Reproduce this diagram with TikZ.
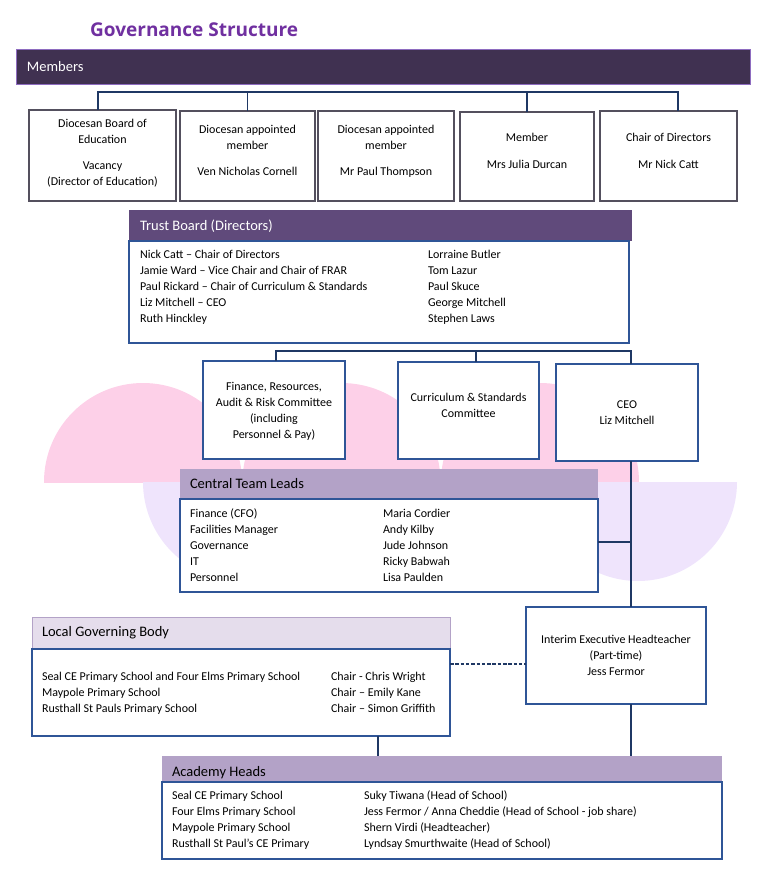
\documentclass[tikz,border=0pt]{standalone}
\usepackage{fontspec}
\setmainfont{Carlito}
\newfontfamily\titlefont{Open Sans}
\definecolor{titlec}{HTML}{7030A0}
\definecolor{mfill}{HTML}{403151}
\definecolor{mbord}{HTML}{8E6CC0}
\definecolor{tfill}{HTML}{604A7B}
\definecolor{hfill}{HTML}{B3A2C7}
\definecolor{lfill}{HTML}{E5DDEC}
\definecolor{grayb}{HTML}{54505E}
\definecolor{blueb}{HTML}{2F5597}
\definecolor{navy}{HTML}{1F3864}
\definecolor{pinkbg}{HTML}{FDD0E8}
\definecolor{lavbg}{HTML}{EFE4FC}
\newcommand\txtlines[5]{%
  \foreach \t [count=\k from 0] in {#5} {\node[txt, anchor=#4] (#1-\k) at (#2, #3+16*\k) {\t};}}
\begin{document}
\begin{tikzpicture}[x=1pt,y=-1pt,
  txt/.style={inner sep=0, outer sep=0, font=\fontsize{12}{16}\selectfont},
  hdr/.style={inner sep=0, outer sep=0, anchor=base west, font=\fontsize{14.5}{17}\selectfont},
  boxbase/.style={inner sep=0, outer sep=0, anchor=north west, line width=1.2pt, fill=white},
  gbox/.style={boxbase, draw=grayb},
  bbox/.style={boxbase, draw=blueb},
  conn/.style={draw=navy, line width=1.2pt}]
\useasboundingbox (0,0) rectangle (771,876);
% background shapes
\begin{scope}
  \clip (0,0) rectangle (771,482);
  \fill[pinkbg] (143,482) circle[radius=99];
  \fill[pinkbg] (341.5,482) circle[radius=99];
  \fill[pinkbg] (540,482) circle[radius=99];
\end{scope}
\begin{scope}
  \clip (0,482) rectangle (771,876);
  \fill[lavbg] (242,482) circle[radius=99];
  \fill[lavbg] (440,482) circle[radius=99];
  \fill[lavbg] (638,482) circle[radius=99];
\end{scope}
% title
\node[anchor=base west, inner sep=0, font=\titlefont\bfseries\fontsize{19}{23}\selectfont, text=titlec] (title) at (90,36) {Governance Structure};
% members bar
\node[boxbase, draw=mbord, fill=mfill, line width=1pt, minimum width=734, minimum height=35] (members) at (16,49) {};
\node[hdr, text=white] (memt) at (27,71) {Members};
% member boxes
\node[gbox, minimum width=147, minimum height=91] (m1) at (29,110) {};
\node[gbox, minimum width=135, minimum height=90] (m2) at (180,111) {};
\node[gbox, minimum width=136, minimum height=90] (m3) at (318,111) {};
\node[gbox, minimum width=134, minimum height=89] (m4) at (460,112) {};
\node[gbox, minimum width=137, minimum height=90] (m5) at (600,111) {};
\txtlines{m1a}{102.5}{127}{base}{Diocesan Board of,Education}
\txtlines{m1b}{102.5}{169}{base}{Vacancy,{(Director of Education)}}
\txtlines{m2a}{247.5}{133}{base}{Diocesan appointed,member}
\node[txt, anchor=base] (m2b) at (247.5,175) {Ven Nicholas Cornell};
\txtlines{m3a}{386}{133}{base}{Diocesan appointed,member}
\node[txt, anchor=base] (m3b) at (386,175) {Mr Paul Thompson};
\node[txt, anchor=base] (m4a) at (527,141) {Member};
\node[txt, anchor=base] (m4b) at (527,168) {Mrs Julia Durcan};
\node[txt, anchor=base] (m5a) at (668.5,141) {Chair of Directors};
\node[txt, anchor=base] (m5b) at (668.5,168) {Mr Nick Catt};
% member connectors
\coordinate (busA) at (98,92);
\coordinate (busB) at (678,92);
\draw[conn] (m1.north -| busA) -- (busA) -- (busB) -- (m5.north -| busB);
\draw[conn] (m2.north) -- (m2.north |- busA);
\draw[conn] (m4.north) -- (m4.north |- busA);
% trust board
\node[boxbase, fill=tfill, minimum width=503, minimum height=31] (tbh) at (129,210) {};
\node[hdr, text=white] (tbt) at (140,230) {Trust Board (Directors)};
\node[bbox, minimum width=500, minimum height=102] (tbb) at (129,241) {};
\txtlines{tbl}{140}{258}{base west}{Nick Catt – Chair of Directors,Jamie Ward – Vice Chair and Chair of FRAR,Paul Rickard – Chair of Curriculum \& Standards,Liz Mitchell – CEO,Ruth Hinckley}
\txtlines{tbr}{428}{258}{base west}{Lorraine Butler,Tom Lazur,Paul Skuce,George Mitchell,Stephen Laws}
% committees
\node[bbox, minimum width=142, minimum height=98] (fin) at (203,361) {};
\node[bbox, minimum width=141, minimum height=97] (cur) at (398,362) {};
\node[bbox, minimum width=142, minimum height=97] (ceo) at (556,364) {};
\txtlines{fint}{274}{390}{base}{{Finance, Resources,},{Audit \& Risk Committee},{(including},{Personnel \& Pay)}}
\txtlines{curt}{468.5}{401}{base}{Curriculum \& Standards,Committee}
\txtlines{ceot}{627}{408}{base}{CEO,Liz Mitchell}
\coordinate (tbA) at (276,351);
\coordinate (tbC) at (476,351);
\coordinate (tbB) at (631,351);
\draw[conn] (fin.north -| tbA) -- (tbA) -- (tbB) -- (ceo.north -| tbB);
\draw[conn] (cur.north -| tbC) -- (tbC);
% central team leads
\node[boxbase, fill=hfill, minimum width=418, minimum height=30] (ctlh) at (180,469) {};
\node[hdr] (ctlt) at (190,488) {Central Team Leads};
\node[bbox, minimum width=418, minimum height=93] (ctlb) at (180,499) {};
\txtlines{ctll}{190}{517}{base west}{{Finance (CFO)},Facilities Manager,Governance,IT,Personnel}
\txtlines{ctlr}{383}{517}{base west}{Maria Cordier,Andy Kilby,Jude Johnson,Ricky Babwah,Lisa Paulden}
% interim
\node[bbox, minimum width=180, minimum height=97] (intm) at (526,607) {};
\txtlines{intt}{616}{643}{base}{Interim Executive Headteacher,{(Part-time)},Jess Fermor}
\coordinate (ceoJ) at (631,542);
\draw[conn] (ceo.south -| tbB) -- (intm.north -| tbB);
\draw[conn] (ceoJ -| ctlb.east) -- (ceoJ);
% local governing body
\node[boxbase, fill=lfill, draw=hfill, line width=1pt, minimum width=418, minimum height=32] (lgbh) at (32,617) {};
\node[hdr] (lgbt) at (42,636) {Local Governing Body};
\node[bbox, minimum width=418, minimum height=87] (lgbb) at (32,649) {};
\txtlines{lgbl}{42}{680}{base west}{Seal CE Primary School and Four Elms Primary School,Maypole Primary School,Rusthall St Pauls Primary School}
\txtlines{lgbr}{331}{680}{base west}{Chair - Chris Wright,Chair – Emily Kane,Chair – Simon Griffith}
\coordinate (dashY) at (488,664);
\draw[conn, line width=1.4pt, dash pattern=on 3.5pt off 1.8pt] (dashY -| lgbb.east) -- (dashY -| intm.west);
% academy heads
\node[boxbase, fill=hfill, minimum width=560, minimum height=26] (ahh) at (162,756) {};
\node[hdr] (aht) at (172,776) {Academy Heads};
\node[bbox, minimum width=560, minimum height=77] (ahb) at (162,782) {};
\txtlines{ahl}{172}{799}{base west}{Seal CE Primary School,Four Elms Primary School,Maypole Primary School,Rusthall St Paul’s CE Primary}
\txtlines{ahr}{364}{799}{base west}{{Suky Tiwana (Head of School)},{Jess Fermor / Anna Cheddie (Head of School - job share)},{Shern Virdi (Headteacher)},{Lyndsay Smurthwaite (Head of School)}}
\coordinate (lgbX) at (378,746);
\draw[conn] (lgbb.south -| lgbX) -- (ahh.north -| lgbX);
\draw[conn] (intm.south -| tbB) -- (ahh.north -| tbB);
\end{tikzpicture}
\end{document}
